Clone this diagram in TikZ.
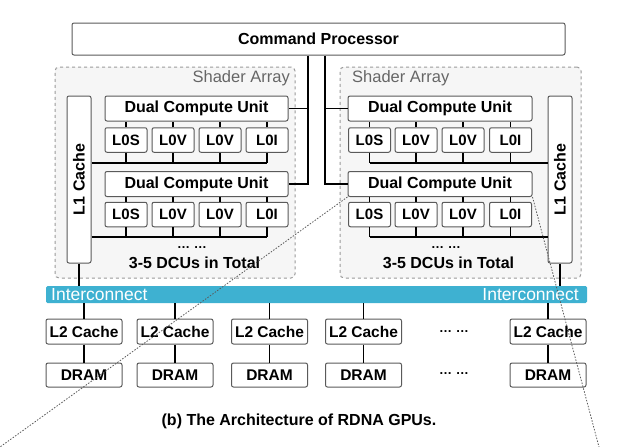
\documentclass[tikz,border=0pt]{standalone}
\usepackage{fontspec}
\setmainfont{Liberation Sans}
\newfontfamily\regfont{Liberation Sans}
\newcommand\medfont{\bfseries}
\definecolor{boxgray}{HTML}{5A5A5A}
\definecolor{sagray}{HTML}{9A9A9A}
\definecolor{safill}{HTML}{F6F6F6}
\definecolor{icblue}{HTML}{3EB1D1}
\definecolor{labgray}{HTML}{666666}
\tikzset{
  box/.style={draw=boxgray, fill=white, rounded corners=2pt, line width=1pt, inner sep=0pt,
    font=\medfont\fontsize{15.5}{16}\selectfont},
  dcu/.style={box, minimum width=183pt, minimum height=25pt, font=\medfont\fontsize{16}{16}\selectfont},
  lzero/.style={box, minimum width=42pt, minimum height=24.5pt, font=\medfont\fontsize{15}{16}\selectfont},
  lone/.style={box, minimum width=24pt, minimum height=167pt},
  ltwo/.style={box, minimum width=76pt, minimum height=25pt},
  sa/.style={draw=sagray, fill=safill, dashed, dash pattern=on 3pt off 3pt, line width=1pt, rounded corners=4pt,
    minimum height=211pt, inner sep=0pt},
  wire/.style={draw=black, line width=1.5pt},
  zoomline/.style={draw=black!65, line width=0.8pt, dash pattern=on 1.5pt off 1.5pt},
  salabel/.style={text=labgray, font=\regfont\fontsize{16.5}{16}\selectfont, inner sep=0pt},
  total/.style={font=\bfseries\fontsize{16}{16}\selectfont, inner sep=0pt},
  dotsl/.style={font=\bfseries\fontsize{13}{13}\selectfont, inner sep=0pt},
  iclabel/.style={text=white, font=\regfont\fontsize{17.5}{16}\selectfont, inner sep=0pt},
}
\begin{document}
\begin{tikzpicture}[x=1pt,y=-1pt]
\useasboundingbox (0,0) rectangle (635,447);
% shader arrays
\node[sa, minimum width=240pt] (saL) at (175,172.5) {};
\node[sa, minimum width=241pt] (saR) at (460.5,172.5) {};
\node[salabel, anchor=east] (saLt) at (290,78) {Shader Array};
\node[salabel, anchor=west] (saRt) at (352,78) {Shader Array};
% command processor
\node[box, minimum width=493pt, minimum height=32pt, font=\bfseries\fontsize{16}{16}\selectfont] (cp) at (318.5,39) {Command Processor};
% L1 caches
\node[lone] (l1L) at (79,179.5) {};
\node[rotate=90, font=\medfont\fontsize{16}{16}\selectfont, inner sep=0pt] (l1Lt) at (79,179.5) {L1 Cache};
\node[lone] (l1R) at (560,179.5) {};
\node[rotate=90, font=\medfont\fontsize{16}{16}\selectfont, inner sep=0pt] (l1Rt) at (560,179.5) {L1 Cache};
% left DCUs
\node[dcu] (dL1) at (196.5,108.5) {Dual Compute Unit};
\node[dcu] (dL2) at (196.5,184) {Dual Compute Unit};
\node[lzero] (aL1) at (126,140) {L0S};
\node[lzero] (bL1) at (173,140) {L0V};
\node[lzero] (cL1) at (220,140) {L0V};
\node[lzero] (eL1) at (267,140) {L0I};
\node[lzero] (aL2) at (126,214.5) {L0S};
\node[lzero] (bL2) at (173,214.5) {L0V};
\node[lzero] (cL2) at (220,214.5) {L0V};
\node[lzero] (eL2) at (267,214.5) {L0I};
% right DCUs
\node[dcu, minimum width=184pt] (dR1) at (440,108.5) {Dual Compute Unit};
\node[dcu, minimum width=184pt] (dR2) at (440,184) {Dual Compute Unit};
\node[lzero] (aR1) at (369.5,140) {L0S};
\node[lzero] (bR1) at (416,140) {L0V};
\node[lzero] (cR1) at (463,140) {L0V};
\node[lzero] (eR1) at (510.5,140) {L0I};
\node[lzero] (aR2) at (369.5,214.5) {L0S};
\node[lzero] (bR2) at (416,214.5) {L0V};
\node[lzero] (cR2) at (463,214.5) {L0V};
\node[lzero] (eR2) at (510.5,214.5) {L0I};
% ticks DCU -> L0
\foreach \n in {a,b,c,e}{
  \draw[wire] (\n L1.north) -- (\n L1.north |- dL1.south);
  \draw[wire] (\n L2.north) -- (\n L2.north |- dL2.south);
  \draw[wire] (\n R1.north) -- (\n R1.north |- dR1.south);
  \draw[wire] (\n R2.north) -- (\n R2.north |- dR2.south);
}
% buses
\coordinate (busL1) at (0,163);
\coordinate (busL2) at (0,237);
\draw[wire] (l1L.east |- busL1) -- (eL1.south |- busL1);
\draw[wire] (l1L.east |- busL2) -- (eL2.south |- busL2);
\draw[wire] (l1R.west |- busL1) -- (aR1.south |- busL1);
\draw[wire] (l1R.west |- busL2) -- (aR2.south |- busL2);
\foreach \n in {a,b,c,e}{
  \draw[wire] (\n L1.south) -- (\n L1.south |- busL1);
  \draw[wire] (\n L2.south) -- (\n L2.south |- busL2);
  \draw[wire] (\n R1.south) -- (\n R1.south |- busL1);
  \draw[wire] (\n R2.south) -- (\n R2.south |- busL2);
}
\node[dotsl] (dotsL) at (192,248) {… …};
\node[dotsl] (dotsR) at (446,248) {… …};
\node[total] (totL) at (194.5,262.5) {3-5 DCUs in Total};
\node[total] (totR) at (448.5,262.5) {3-5 DCUs in Total};
% CP links
\coordinate (vL) at (308,0);
\coordinate (vR) at (325,0);
\draw[wire, line join=miter] (vL |- cp.south) -- (vL |- dL2.east) -- (dL2.east);
\draw[wire] (vL |- dL1.east) -- (dL1.east);
\draw[wire, line join=miter] (vR |- cp.south) -- (vR |- dR2.west) -- (dR2.west);
\draw[wire] (vR |- dR1.west) -- (dR1.west);
% interconnect
\node[fill=icblue, rounded corners=1.5pt, minimum width=541pt, minimum height=17pt, inner sep=0pt] (ic) at (316.5,294.5) {};
\node[iclabel, anchor=west] (icL) at (51,294.5) {Interconnect};
\node[iclabel, anchor=east] (icR) at (579,294.5) {Interconnect};
\draw[wire] (l1L.south) -- (l1L.south |- ic.north);
\draw[wire] (l1R.south) -- (l1R.south |- ic.north);
% L2 and DRAM
\foreach \i/\x in {1/84,2/175,3/269.5,4/363.5,5/548}{
  \node[ltwo] (l2\i) at (\x,331.5) {L2 Cache};
  \node[ltwo, minimum height=24pt] (dr\i) at (\x,375) {DRAM};
  \draw[wire] (l2\i.north) -- (l2\i.north |- ic.south);
  \draw[wire] (l2\i.south) -- (dr\i.north);
}
\node[dotsl] (dotsA) at (454,332) {… …};
\node[dotsl] (dotsB) at (454,374) {… …};
% caption
\node[font=\bfseries\fontsize{16}{16}\selectfont, inner sep=0pt, anchor=base] (cap) at (299,425) {(b) The Architecture of RDNA GPUs.};
% zoom lines
\coordinate (zA) at (0,447);
\coordinate (zB) at (599,447);
\draw[zoomline] (dR2.south west) -- (zA);
\draw[zoomline] (dR2.south east) -- (zB);
\end{tikzpicture}
\end{document}
